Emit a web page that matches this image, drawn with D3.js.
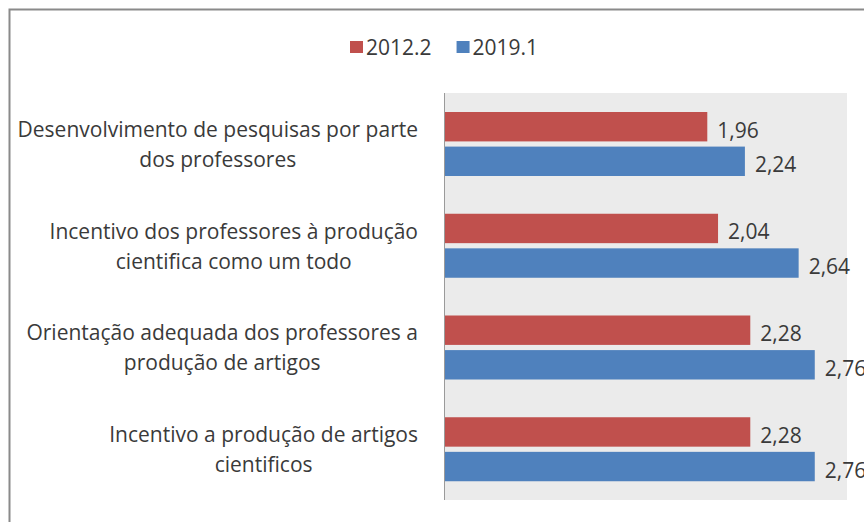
<!DOCTYPE html>
<html><head><meta charset="utf-8">
<script src="https://cdn.jsdelivr.net/npm/d3@7"></script>
<style>
html,body{margin:0;padding:0;background:#fff;}
svg text{font-family:"Open Sans",sans-serif;fill:#3a3a3a;}
</style></head>
<body><svg id="c" width="864" height="522"></svg>
<script>
const categories = [
  ["Desenvolvimento de pesquisas por parte", "dos professores"],
  ["Incentivo dos professores à produção", "cientifica como um todo"],
  ["Orientação adequada dos professores a", "produção de artigos"],
  ["Incentivo a produção de artigos", "cientificos"]
];
const seriesNames = ["2012.2", "2019.1"];
const values2012 = [1.96, 2.04, 2.28, 2.28];
const values2019 = [2.24, 2.64, 2.76, 2.76];
const valueLabels2012 = ["1,96", "2,04", "2,28", "2,28"];
const valueLabels2019 = ["2,24", "2,64", "2,76", "2,76"];
const colors = ["#C0504D", "#4F81BD"];

const svg = d3.select("#c");
// outer frame
svg.append("path").attr("d","M9.5,530 V9.5 H880").attr("fill","none").attr("stroke","#8a8a8a").attr("stroke-width",2);

const plot = {x0:444, x1:847, y0:93, y1:500};
svg.append("rect").attr("x",plot.x0).attr("y",plot.y0).attr("width",plot.x1-plot.x0).attr("height",plot.y1-plot.y0).attr("fill","#ebebeb");

const x = d3.scaleLinear().domain([0,3]).range([plot.x0, plot.x1]);
const ids = d3.range(categories.length);
const y0 = d3.scaleBand().domain(ids).range([plot.y0, plot.y1]).padding(0);
const y1 = d3.scaleBand().domain(seriesNames).range([19, 83]).paddingInner(0.15);

const data = ids.map(i => ({i, vals:[
  {s:seriesNames[0], v:values2012[i], t:valueLabels2012[i], c:colors[0]},
  {s:seriesNames[1], v:values2019[i], t:valueLabels2019[i], c:colors[1]}]}));

const g = svg.selectAll("g.grp").data(data).join("g").attr("class","grp")
  .attr("transform", d => `translate(0,${y0(d.i)})`);
g.selectAll("rect").data(d=>d.vals).join("rect")
  .attr("x", x(0)).attr("y", d=>y1(d.s)).attr("width", d=>x(d.v)-x(0))
  .attr("height", y1.bandwidth()).attr("fill", d=>d.c);
g.selectAll("text.val").data(d=>d.vals).join("text").attr("class","val")
  .attr("x", d=>x(d.v)+10).attr("y", d=>y1(d.s)+y1.bandwidth()/2+3)
  .attr("dominant-baseline","central").attr("font-size",21).text(d=>d.t);

// axis line
svg.append("line").attr("x1",plot.x0+0.5).attr("x2",plot.x0+0.5).attr("y1",plot.y0).attr("y2",plot.y1).attr("stroke","#9a9a9a");

// category labels
const labRight = 418;
ids.forEach(i => {
  const cy = y0(i) + y0.bandwidth()/2;
  const lines = categories[i];
  const tg = svg.append("g");
  const ts = lines.map((ln,k) => tg.append("text").attr("font-size",21)
     .attr("y", cy + (k - (lines.length-1)/2)*30).attr("dominant-baseline","central")
     .attr("text-anchor","middle").text(ln));
  const maxw = d3.max(ts, t => t.node().getComputedTextLength());
  ts.forEach(t => t.attr("x", labRight - maxw/2));
});

// legend
const leg = svg.append("g");
let lx = 350;
seriesNames.forEach((s,k) => {
  leg.append("rect").attr("x",lx).attr("y",41).attr("width",13).attr("height",12).attr("fill",colors[k]);
  const t = leg.append("text").attr("x",lx+16).attr("y",47).attr("dominant-baseline","central").attr("font-size",21).text(s);
  lx += 16 + t.node().getComputedTextLength() + 25;
});
</script></body></html>
